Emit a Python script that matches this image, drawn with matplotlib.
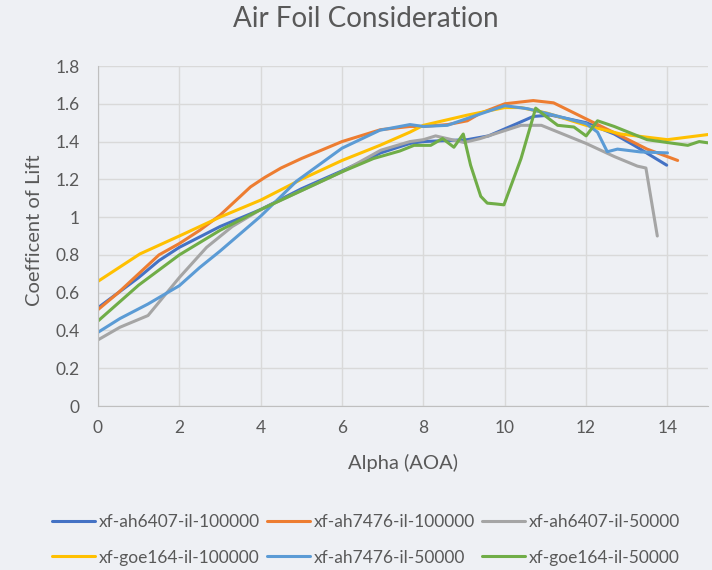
import matplotlib.pyplot as plt

# alpha / cl readings per airfoil
ah6407_100k_x = [0, 0.5, 1.0, 1.5, 2, 3, 4, 5, 6, 6.95, 7.67, 8, 9.08, 9.6, 10.3, 10.7, 11.13, 12, 12.69, 13.18, 13.98]
ah6407_100k_y = [0.52, 0.60, 0.68, 0.77, 0.84, 0.95, 1.04, 1.15, 1.245, 1.34, 1.39, 1.40, 1.41, 1.43, 1.495, 1.533, 1.54, 1.50, 1.44, 1.38, 1.275]

ah7476_100k_x = [0, 0.5, 1.0, 1.5, 2, 2.5, 3, 3.4, 3.75, 4.1, 4.5, 5, 6, 6.95, 7.67, 8, 8.6, 9.08, 9.4, 10, 10.7, 11.2, 12, 12.85, 13.5, 14.25]
ah7476_100k_y = [0.51, 0.60, 0.70, 0.80, 0.86, 0.93, 1.01, 1.09, 1.16, 1.21, 1.26, 1.31, 1.40, 1.463, 1.48, 1.48, 1.49, 1.51, 1.55, 1.60, 1.617, 1.605, 1.52, 1.43, 1.36, 1.30]

ah6407_50k_x = [0, 0.54, 1.23, 2, 2.67, 3.3, 4, 5, 6, 6.95, 7.67, 8, 8.3, 9, 9.4, 10.4, 10.9, 12, 12.7, 13.26, 13.47, 13.75]
ah6407_50k_y = [0.35, 0.417, 0.479, 0.68, 0.84, 0.95, 1.04, 1.14, 1.24, 1.354, 1.40, 1.41, 1.43, 1.395, 1.416, 1.486, 1.486, 1.39, 1.32, 1.27, 1.26, 0.90]

goe164_100k_x = [0, 1.03, 2, 3, 4, 5, 6, 6.93, 7.67, 8, 9.08, 10, 10.4, 11.05, 12, 12.85, 14, 15.1]
goe164_100k_y = [0.66, 0.805, 0.90, 1.00, 1.09, 1.20, 1.30, 1.38, 1.45, 1.486, 1.54, 1.58, 1.58, 1.55, 1.486, 1.44, 1.41, 1.44]

ah7476_50k_x = [0, 0.54, 1.23, 2, 2.5, 3, 4, 4.88, 6, 6.93, 7.67, 8, 8.59, 9.41, 10, 10.56, 11.2, 12, 12.28, 12.52, 12.77, 13.34, 14]
ah7476_50k_y = [0.39, 0.463, 0.54, 0.637, 0.733, 0.82, 1.005, 1.19, 1.365, 1.46, 1.49, 1.48, 1.486, 1.547, 1.59, 1.574, 1.54, 1.495, 1.45, 1.346, 1.36, 1.345, 1.34]

goe164_50k_x = [0, 1, 2, 3, 4, 5, 6, 6.77, 7.42, 7.77, 8.18, 8.47, 8.75, 8.98, 9.16, 9.41, 9.57, 9.77, 9.98, 10.4, 10.76, 10.97, 11.3, 11.7, 12, 12.28, 12.69, 13.5, 14.16, 14.5, 14.78, 15.1]
goe164_50k_y = [0.45, 0.64, 0.80, 0.93, 1.04, 1.14, 1.24, 1.31, 1.35, 1.38, 1.38, 1.416, 1.37, 1.44, 1.275, 1.11, 1.074, 1.07, 1.065, 1.31, 1.577, 1.54, 1.486, 1.477, 1.43, 1.51, 1.48, 1.41, 1.39, 1.38, 1.40, 1.39]

labels = ["xf-ah6407-il-100000", "xf-ah7476-il-100000", "xf-ah6407-il-50000",
          "xf-goe164-il-100000", "xf-ah7476-il-50000", "xf-goe164-il-50000"]
colors = ["#4472C4", "#ED7D31", "#A5A5A5", "#FFC000", "#5B9BD5", "#70AD47"]

series = [(ah6407_100k_x, ah6407_100k_y), (ah7476_100k_x, ah7476_100k_y),
          (ah6407_50k_x, ah6407_50k_y), (goe164_100k_x, goe164_100k_y),
          (ah7476_50k_x, ah7476_50k_y), (goe164_50k_x, goe164_50k_y)]

plt.rcParams['font.family'] = ['Lato', 'DejaVu Sans']
text_col = "#595959"
bg = "#eef0f4"

fig = plt.figure(figsize=(7.12, 5.70), dpi=100, facecolor=bg)
ax = fig.add_axes([0.1376, 0.2877, 0.857, 0.5965], facecolor=bg)

handles = []
for (xs, ys), lab, col in zip(series, labels, colors):
    h, = ax.plot(xs, ys, color=col, lw=2.2, label=lab, solid_joinstyle='round', solid_capstyle='round')
    handles.append(h)

ax.set_xlim(0, 15)
ax.set_ylim(0, 1.8)
ax.set_xticks(range(0, 15, 2))
ax.set_yticks([i * 0.2 for i in range(10)])
ax.set_yticklabels(["0", "0.2", "0.4", "0.6", "0.8", "1", "1.2", "1.4", "1.6", "1.8"])
ax.grid(True, color="#d9d9d9", lw=1.0)
ax.set_axisbelow(True)
for s in ["top", "right"]:
    ax.spines[s].set_visible(False)
for s in ["left", "bottom"]:
    ax.spines[s].set_color("#bfbfbf")
ax.tick_params(length=0, labelsize=12.5, colors=text_col)
ax.tick_params(axis='y', pad=13)
ax.tick_params(axis='x', pad=10)

fig.text(0.514, 1 - 19 / 570, "Air Foil Consideration", fontsize=20, color=text_col,
         ha='center', va='center')
fig.text(403 / 712, 1 - 463 / 570, "Alpha (AOA)", fontsize=14.5, color=text_col,
         ha='center', va='center')
fig.text(35 / 712, 1 - 230 / 570, "Coefficent of Lift", fontsize=14.5, color=text_col,
         ha='center', va='center', rotation=90)

order = [0, 3, 1, 4, 2, 5]
fig.legend([handles[i] for i in order], [labels[i] for i in order],
           loc="center", bbox_to_anchor=(0.514, 1 - 540 / 570), ncol=3, frameon=False,
           fontsize=12.5, labelcolor=text_col, handlelength=2.5, handletextpad=0.2,
           columnspacing=0.4, labelspacing=1.1, borderpad=0)

fig.savefig("out.png", dpi=100, facecolor=bg)
